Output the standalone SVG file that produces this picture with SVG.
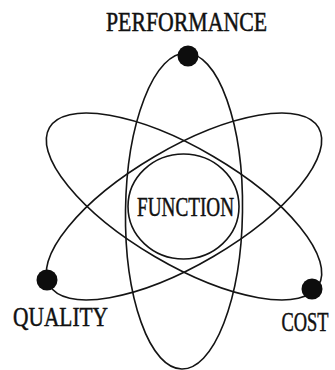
<svg xmlns="http://www.w3.org/2000/svg" width="335" height="370" viewBox="0 0 335 370">
  <style>
    .orbit { fill: none; stroke: #141414; stroke-width: 1.6; }
    .dot { fill: #0d0d0d; }
    .lbl { font-family: "Liberation Serif", "Times New Roman", serif; font-size: 27.5px; fill: #111; stroke: #111; stroke-width: 0.5; }
  </style>
  <rect x="0" y="0" width="335" height="370" fill="#ffffff"/>
  <g id="connectors">
    <ellipse class="orbit" cx="184" cy="211" rx="58.5" ry="158" transform="rotate(0.8 184 211)"/>
    <ellipse class="orbit" cx="184" cy="206.5" rx="156" ry="58" transform="rotate(30.4 184 206.5)"/>
    <ellipse class="orbit" cx="184" cy="206.5" rx="156" ry="58" transform="rotate(-30.4 184 206.5)"/>
  </g>
  <g id="function">
    <ellipse class="orbit" cx="183.5" cy="206.5" rx="55.5" ry="52.5"/>
    <text class="lbl" x="137" y="216" textLength="97" lengthAdjust="spacingAndGlyphs">FUNCTION</text>
  </g>
  <g id="performance">
    <circle class="dot" cx="188" cy="56" r="10.5"/>
    <text class="lbl" x="106" y="31" textLength="161" lengthAdjust="spacingAndGlyphs">PERFORMANCE</text>
  </g>
  <g id="quality">
    <circle class="dot" cx="47" cy="280" r="10.5"/>
    <text class="lbl" x="13" y="326" textLength="95" lengthAdjust="spacingAndGlyphs">QUALITY</text>
  </g>
  <g id="cost">
    <circle class="dot" cx="312" cy="289" r="10.5"/>
    <text class="lbl" x="0" y="0" transform="matrix(0.67 0 0 1 281.5 331)">COST</text>
  </g>
</svg>
